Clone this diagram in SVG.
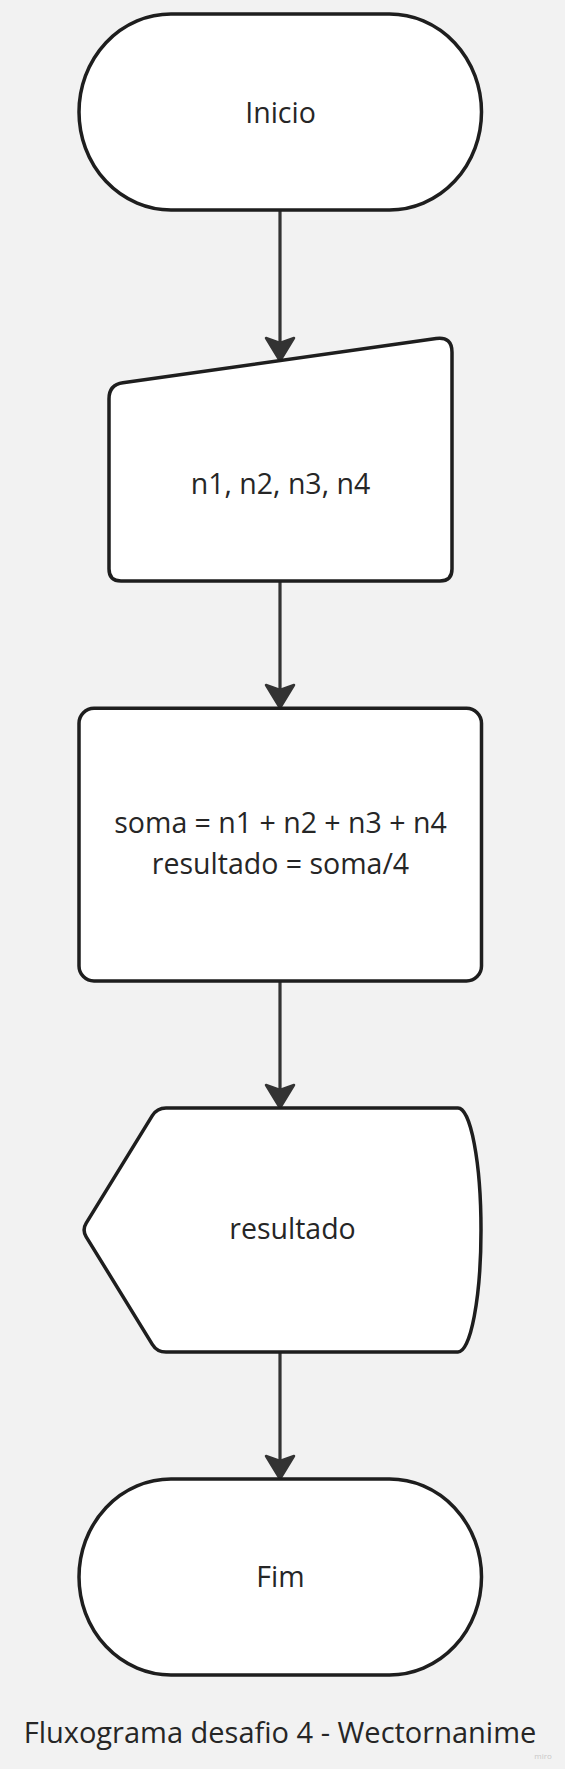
<svg xmlns="http://www.w3.org/2000/svg" width="565" height="1769" viewBox="0 0 565 1769">
  <style>
    .shape { fill: #ffffff; stroke: #1e1e1e; stroke-width: 3.5; stroke-linejoin: round; }
    .conn { fill: none; stroke: #333333; stroke-width: 3.2; }
    .label { font-family: "Open Sans", "Noto Sans", "Liberation Sans", sans-serif; font-size: 28.5px; fill: #262626; text-anchor: middle; }
    .title { font-family: "Open Sans", "Noto Sans", "Liberation Sans", sans-serif; font-size: 29px; fill: #262626; text-anchor: middle; }
    .wm { font-family: "Open Sans", "Liberation Sans", sans-serif; font-size: 8px; fill: #c8c8c8; text-anchor: middle; }
  </style>
  <defs>
    <marker id="arrow" viewBox="0 0 28 32" markerWidth="28" markerHeight="32" refX="8" refY="16" orient="auto" markerUnits="userSpaceOnUse">
      <path d="M3,2 L26,16 L3,30 L8,16 Z" fill="#333333" stroke="#333333" stroke-width="2.5" stroke-linejoin="round"/>
    </marker>
  </defs>
  <rect x="0" y="0" width="565" height="1769" fill="#f2f2f2"/>

  <g id="connectors">
    <line class="conn" x1="280" y1="210" x2="280" y2="343" marker-end="url(#arrow)"/>
    <line class="conn" x1="280" y1="581" x2="280" y2="690" marker-end="url(#arrow)"/>
    <line class="conn" x1="280" y1="981" x2="280" y2="1090" marker-end="url(#arrow)"/>
    <line class="conn" x1="280" y1="1352" x2="280" y2="1461" marker-end="url(#arrow)"/>
  </g>

  <g id="node-inicio">
    <rect class="shape" x="79" y="14" width="402.5" height="196" rx="92" ry="98"/>
    <text class="label" x="280.5" y="122.5">Inicio</text>
  </g>

  <g id="node-entrada">
    <path class="shape" d="M122.9,382.7 L436.2,338.5 Q452,336.3 452,352.3 L452,569 Q452,581 440,581 L121,581 Q109,581 109,569 L109,398.7 Q109,384.7 122.9,382.7 Z"/>
    <text class="label" x="280.5" y="493.5">n1, n2, n3, n4</text>
  </g>

  <g id="node-processo">
    <rect class="shape" x="79" y="708.3" width="402.5" height="272.7" rx="15" ry="15"/>
    <text class="label" x="280.5" y="833.3">soma = n1 + n2 + n3 + n4</text>
    <text class="label" x="280.5" y="874.3">resultado = soma/4</text>
  </g>

  <g id="node-saida">
    <path class="shape" d="M166,1108 L458,1108 A23,122 0 0 1 458,1352 L166,1352 Q157,1352 152.3,1344.3 L86.2,1236.8 Q82,1230 86.2,1223.2 L152.3,1115.7 Q157,1108 166,1108 Z"/>
    <text class="label" x="292.5" y="1239.3">resultado</text>
  </g>

  <g id="node-fim">
    <rect class="shape" x="79" y="1479" width="402.5" height="196" rx="92" ry="98"/>
    <text class="label" x="280.5" y="1586.7">Fim</text>
  </g>

  <text class="title" x="280" y="1743.3">Fluxograma desafio 4 - Wectornanime</text>
  <text class="wm" x="543" y="1759">miro</text>
</svg>
